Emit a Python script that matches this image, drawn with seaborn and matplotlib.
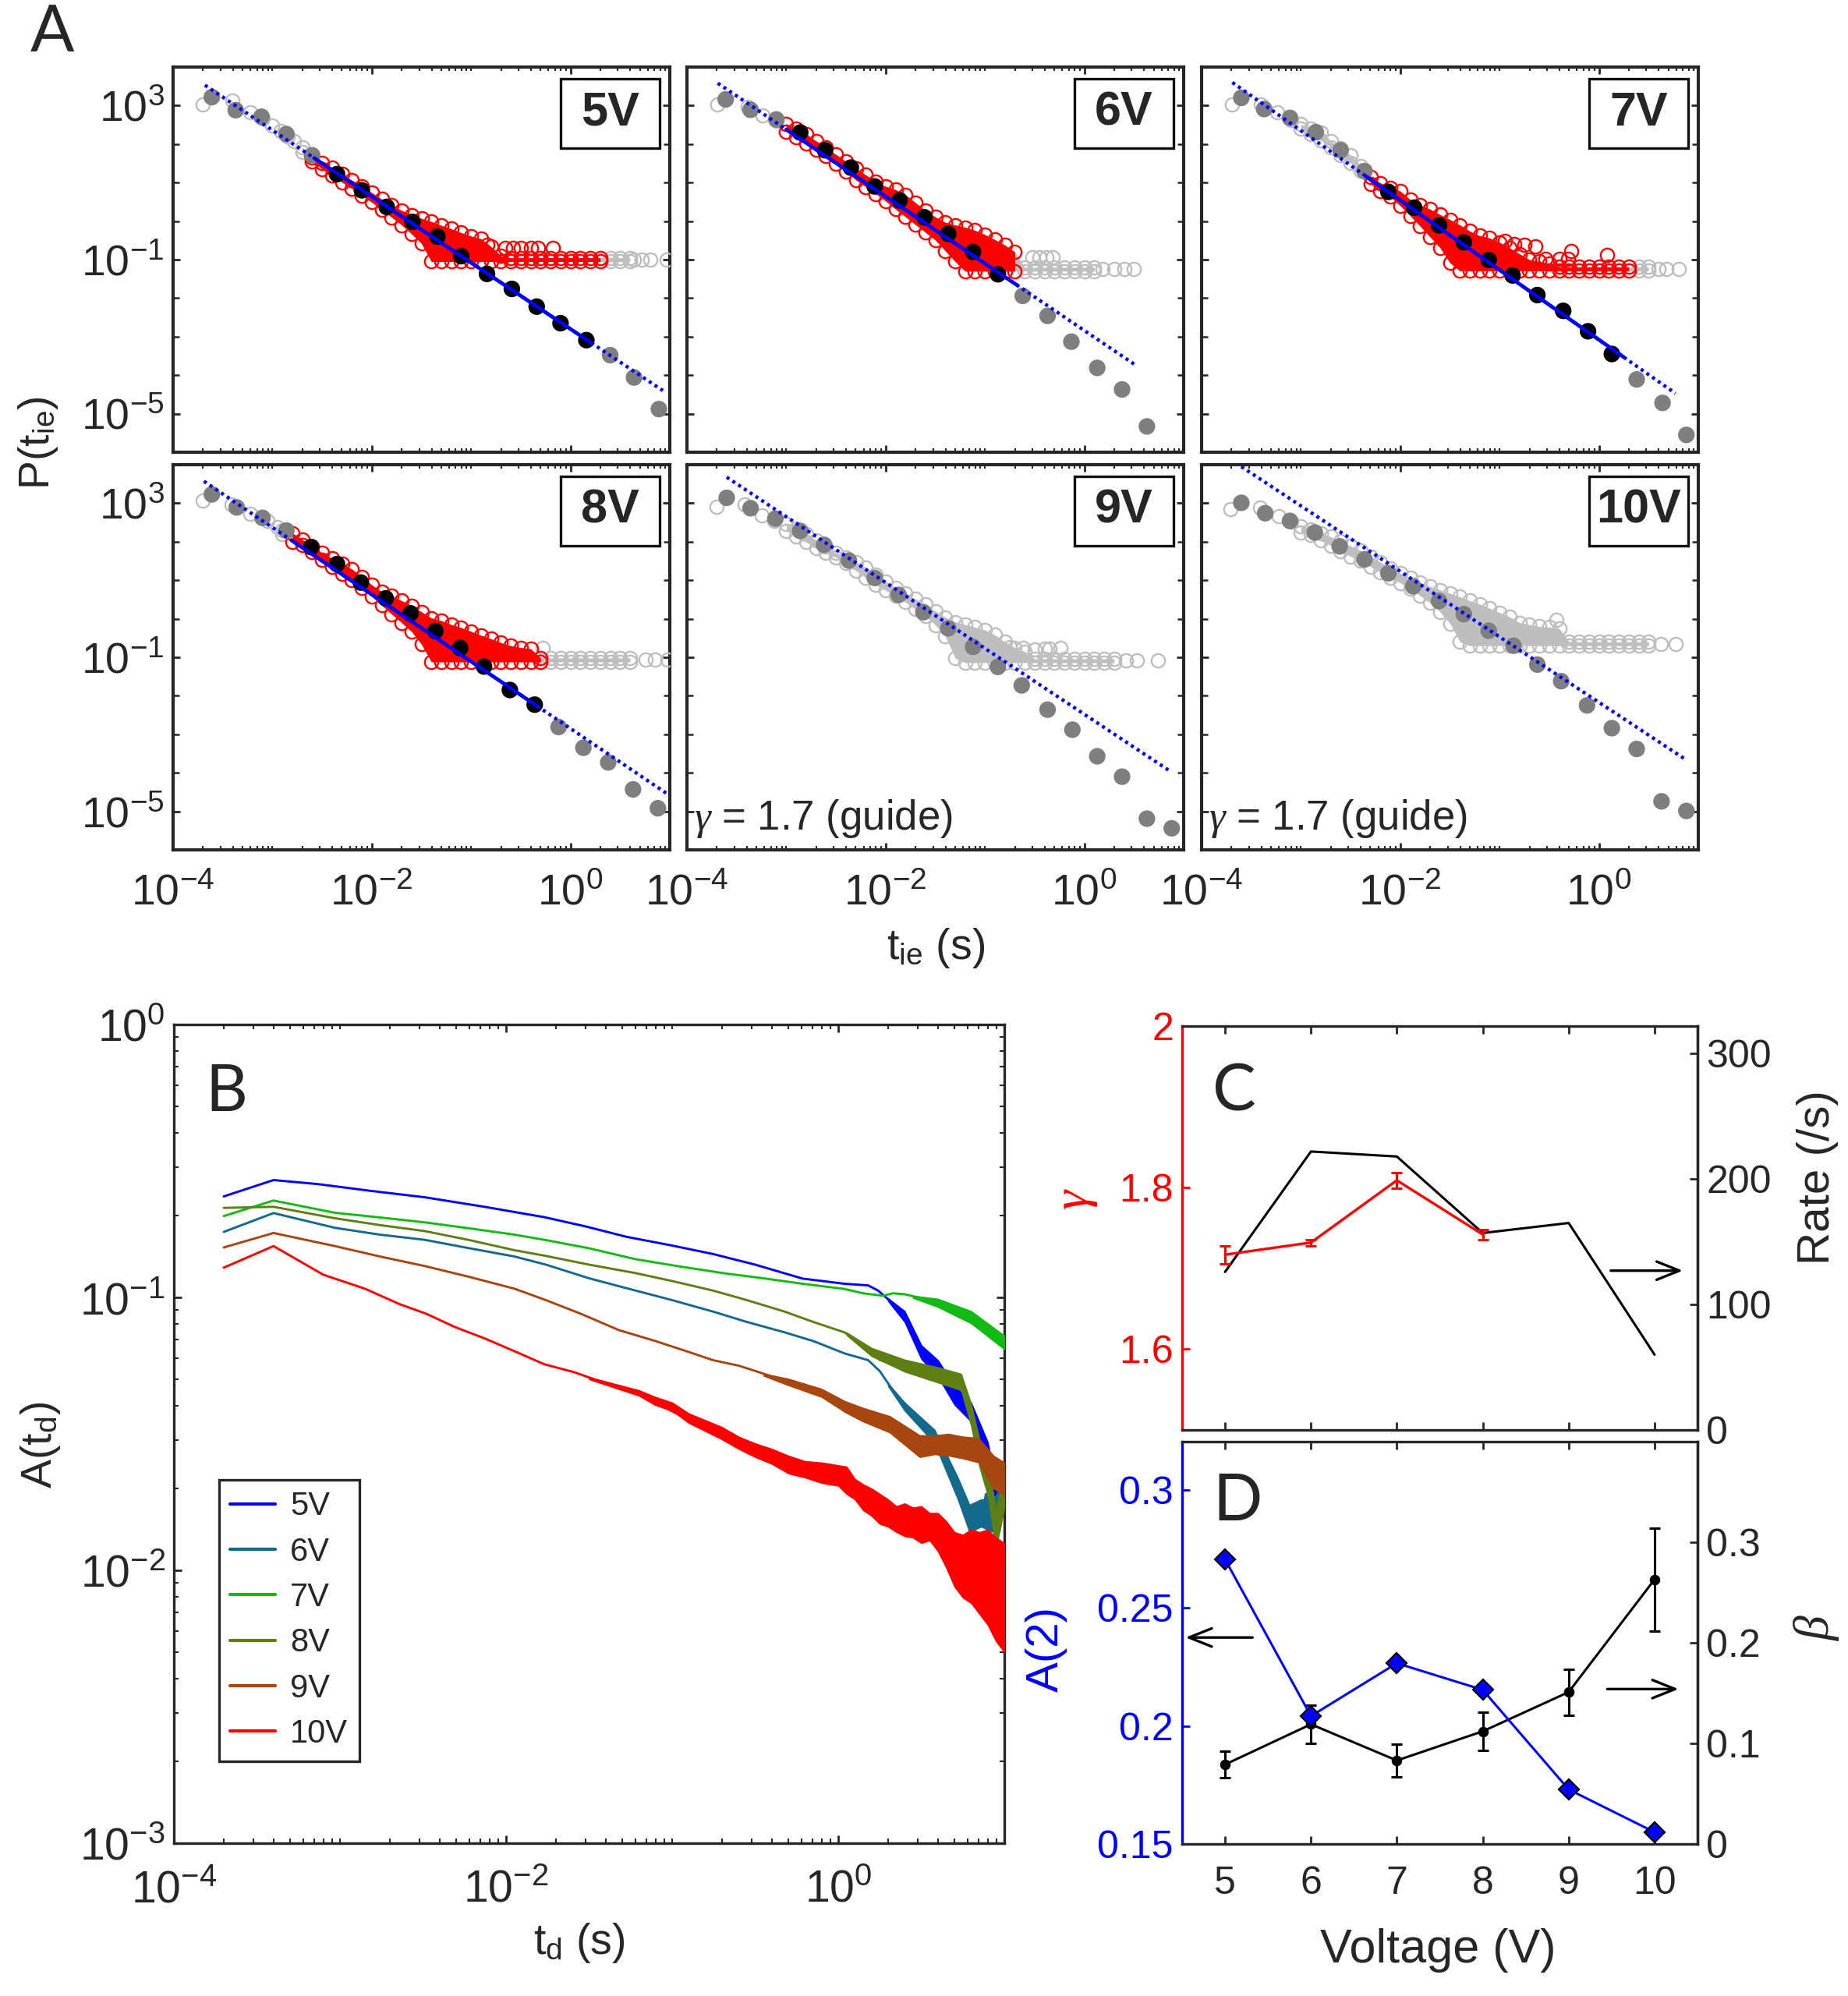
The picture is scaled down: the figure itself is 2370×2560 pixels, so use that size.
import numpy as np
import matplotlib
matplotlib.use("Agg")
import matplotlib.pyplot as plt
import seaborn as sns
from matplotlib import font_manager as fm
from matplotlib.ticker import FixedLocator, LogLocator, NullFormatter, FuncFormatter
from matplotlib.patches import Rectangle

# ======================= DATA =======================
# Panel A : values are log10(t_ie [s]) and log10(P(t_ie))
# ---- 5V
head_lx_5 = [-3.70, -3.40, -3.22, -3.10, -3.00, -2.92, -2.85, -2.78]
head_ly_5 = [3.03, 3.12, 2.82, 2.66, 2.48, 2.34, 2.20, 2.08]
band_lx_5 = [-2.7, -2.6, -2.5, -2.4, -2.3, -2.2, -2.1, -2.0, -1.9, -1.8, -1.7, -1.6, -1.5, -1.4, -1.3, -1.2, -1.1,
             -1.0, -0.9, -0.8, -0.7, -0.6, -0.5, -0.4, -0.3, -0.2, -0.1, 0.0, 0.1, 0.2, 0.3, 0.4, 0.5, 0.6]
band_hi_5 = [1.92, 1.66, 1.52, 1.38, 1.22, 1.06, 0.90, 0.74, 0.57, 0.41, 0.28, 0.16, 0.07, -0.01, -0.11, -0.20, -0.30,
             -0.39, -0.46, -0.66, -0.90, -0.95, -0.95, -0.95, -0.95, -0.95, -0.95, -0.95, -0.95, -0.95, -0.95, -0.95, -0.95, -0.95]
band_lo_5 = [1.80, 1.56, 1.35, 1.18, 1.01, 0.85, 0.67, 0.49, 0.30, 0.10, -0.10, -0.33, -0.58, -1.05, -1.05, -1.05, -1.05,
             -1.05, -1.05, -1.05, -1.05, -1.05, -1.05, -1.05, -1.05, -1.05, -1.05, -1.05, -1.05, -1.05, -1.05, -1.05, -1.05, -1.05]
sp_lx_5 = [-0.84, -0.66, -0.58, -0.50, -0.40, -0.33, -0.18, 0.64, 0.72, 0.80, 0.97]
sp_ly_5 = [-0.62, -0.70, -0.70, -0.70, -0.70, -0.69, -0.69, -1.00, -1.00, -1.00, -1.00]
red_5 = [-2.65, 0.33]
bin_lx_5 = [-3.61, -3.37, -3.11, -2.86, -2.60, -2.35, -2.10, -1.85, -1.59, -1.34, -1.10, -0.84, -0.59, -0.34, -0.10, 0.16, 0.40, 0.64, 0.89]
bin_ly_5 = [3.22, 2.88, 2.71, 2.26, 1.71, 1.22, 0.80, 0.37, -0.02, -0.40, -0.91, -1.37, -1.76, -2.22, -2.65, -3.09, -3.48, -4.06, -4.88]
bin_fit_5 = [0, 0, 0, 0, 0, 1, 1, 1, 1, 1, 1, 1, 1, 1, 1, 1, 0, 0, 0]
gamma_5, icpt_5, solid_5, guide_5 = 1.72, -2.80, [-2.58, 0.21], [-3.68, 0.93]

# ---- 6V
head_lx_6 = [-3.69, -3.39, -3.24, -3.10]
head_ly_6 = [3.03, 2.96, 2.75, 2.60]
band_lx_6 = [-3.0, -2.9, -2.8, -2.7, -2.6, -2.5, -2.4, -2.3, -2.2, -2.1, -2.0, -1.9, -1.8, -1.7, -1.6, -1.5,
             -1.4, -1.3, -1.2, -1.1, -1.0, -0.9, -0.8, -0.7, -0.6, -0.5, -0.4, -0.3, -0.2, -0.1, 0.0, 0.1]
band_hi_6 = [2.52, 2.40, 2.26, 2.08, 1.91, 1.73, 1.55, 1.37, 1.20, 1.03, 0.90, 0.82, 0.68, 0.48, 0.27, 0.11,
             -0.03, -0.10, -0.16, -0.24, -0.35, -0.48, -0.62, -0.80, -1.20, -1.20, -1.20, -1.20, -1.20, -1.20, -1.20, -1.20]
band_lo_6 = [2.32, 2.18, 2.02, 1.85, 1.69, 1.49, 1.28, 1.07, 0.89, 0.71, 0.52, 0.31, 0.11, -0.09, -0.29, -0.49,
             -0.77, -1.05, -1.30, -1.30, -1.30, -1.30, -1.30, -1.30, -1.30, -1.30, -1.30, -1.30, -1.30, -1.30, -1.30, -1.30]
sp_lx_6 = [-0.52, -0.45, -0.38, -0.32, 0.18, 0.30, 0.40, 0.50]
sp_ly_6 = [-0.93, -0.93, -0.93, -0.93, -1.25, -1.25, -1.25, -1.25]
red_6 = [-3.02, -0.62]
bin_lx_6 = [-3.61, -3.36, -3.10, -2.86, -2.61, -2.35, -2.11, -1.86, -1.61, -1.37, -1.12, -0.87, -0.62, -0.37, -0.13, 0.13, 0.38, 0.63]
bin_ly_6 = [3.16, 2.89, 2.64, 2.30, 1.84, 1.39, 0.90, 0.54, 0.10, -0.33, -0.80, -1.38, -1.94, -2.46, -3.13, -3.81, -4.37, -5.33]
bin_fit_6 = [0, 0, 0, 1, 1, 1, 1, 1, 1, 1, 1, 1, 0, 0, 0, 0, 0, 0]
gamma_6, icpt_6, solid_6, guide_6 = 1.74, -2.84, [-3.00, -0.67], [-3.69, 0.51]

# ---- 7V
head_lx_7 = [-3.69, -3.40, -3.24, -3.10]
head_ly_7 = [3.03, 3.03, 2.82, 2.62]
band_lx_7 = [-3.0, -2.9, -2.8, -2.7, -2.6, -2.5, -2.4, -2.3, -2.2, -2.1, -2.0, -1.9, -1.8, -1.7, -1.6, -1.5, -1.4, -1.3,
             -1.2, -1.1, -1.0, -0.9, -0.8, -0.7, -0.6, -0.5, -0.4, -0.3, -0.2, -0.1, 0.0, 0.1, 0.2, 0.3, 0.4, 0.5]
band_hi_7 = [2.52, 2.40, 2.30, 2.08, 1.90, 1.72, 1.42, 1.15, 0.99, 0.87, 0.78, 0.56, 0.42, 0.31, 0.17, 0.04, -0.10, -0.26,
             -0.38, -0.44, -0.55, -0.70, -0.85, -1.00, -1.05, -1.10, -1.19, -1.19, -1.19, -1.19, -1.19, -1.19, -1.19, -1.19, -1.19, -1.19]
band_lo_7 = [2.40, 2.26, 2.10, 1.92, 1.72, 1.52, 1.30, 0.97, 0.79, 0.63, 0.40, 0.14, -0.13, -0.41, -0.69, -1.08, -1.29, -1.29,
             -1.29, -1.29, -1.29, -1.29, -1.29, -1.29, -1.29, -1.29, -1.29, -1.29, -1.29, -1.29, -1.29, -1.29, -1.29, -1.29, -1.29, -1.29]
sp_lx_7 = [-0.95, -0.85, -0.75, -0.64, -0.54, -0.40, -0.31, -0.28, 0.08, 0.60, 0.68, 0.80]
sp_ly_7 = [-0.52, -0.60, -0.62, -0.66, -0.98, -0.98, -0.98, -0.77, -0.87, -1.24, -1.24, -1.24]
red_7 = [-2.36, 0.32]
bin_lx_7 = [-3.60, -3.37, -3.11, -2.85, -2.60, -2.36, -2.12, -1.86, -1.61, -1.36, -1.11, -0.87, -0.62, -0.36, -0.11, 0.13, 0.38, 0.64, 0.88]
bin_ly_7 = [3.20, 2.91, 2.68, 2.31, 1.84, 1.30, 0.76, 0.35, -0.11, -0.55, -1.01, -1.41, -1.92, -2.33, -2.86, -3.45, -4.11, -4.72, -5.55]
bin_fit_7 = [0, 0, 0, 0, 0, 0, 1, 1, 1, 1, 1, 1, 1, 1, 1, 1, 0, 0, 0]
gamma_7, icpt_7, solid_7, guide_7 = 1.81, -3.08, [-2.35, 0.25], [-3.69, 0.77]

# ---- 8V
head_lx_8 = [-3.70, -3.41, -3.22, -3.05, -2.95]
head_ly_8 = [3.06, 2.96, 2.72, 2.55, 2.38]
band_lx_8 = [-2.9, -2.8, -2.7, -2.6, -2.5, -2.4, -2.3, -2.2, -2.1, -2.0, -1.9, -1.8, -1.7, -1.6, -1.5, -1.4, -1.3, -1.2,
             -1.1, -1.0, -0.9, -0.8, -0.7, -0.6, -0.5, -0.4, -0.3, -0.2, -0.1, 0.0, 0.1, 0.2, 0.3, 0.4, 0.5, 0.6]
band_hi_8 = [2.30, 2.22, 2.06, 1.88, 1.71, 1.57, 1.43, 1.29, 1.09, 0.88, 0.70, 0.59, 0.47, 0.34, 0.18, 0.02, -0.05, -0.15,
             -0.23, -0.33, -0.43, -0.52, -0.62, -0.70, -0.75, -0.78, -1.02, -1.02, -1.02, -1.02, -1.02, -1.02, -1.02, -1.02, -1.02, -1.02]
band_lo_8 = [2.20, 2.00, 1.91, 1.73, 1.53, 1.35, 1.17, 1.00, 0.81, 0.58, 0.35, 0.12, -0.10, -0.33, -0.66, -1.12, -1.12, -1.12,
             -1.12, -1.12, -1.12, -1.12, -1.12, -1.12, -1.12, -1.12, -1.12, -1.12, -1.12, -1.12, -1.12, -1.12, -1.12, -1.12, -1.12, -1.12]
sp_lx_8 = [-0.28, 0.76, 0.85, 0.98]
sp_ly_8 = [-0.76, -1.07, -1.07, -1.07]
red_8 = [-2.82, -0.30]
bin_lx_8 = [-3.61, -3.36, -3.10, -2.86, -2.61, -2.35, -2.11, -1.86, -1.61, -1.36, -1.11, -0.87, -0.61, -0.36, -0.12, 0.13, 0.38, 0.63, 0.88]
bin_ly_8 = [3.23, 2.89, 2.62, 2.29, 1.86, 1.42, 0.94, 0.53, 0.14, -0.32, -0.76, -1.24, -1.85, -2.23, -2.81, -3.35, -3.73, -4.43, -4.92]
bin_fit_8 = [0, 0, 0, 0, 1, 1, 1, 1, 1, 1, 1, 1, 1, 1, 0, 0, 0, 0, 0]
gamma_8, icpt_8, solid_8, guide_8 = 1.74, -2.85, [-2.80, -0.33], [-3.69, 0.97]

# ---- 9V
head_lx_9 = [-3.70, -3.42, -3.25, -3.12]
head_ly_9 = [2.91, 2.96, 2.69, 2.55]
band_lx_9 = [-3.0, -2.9, -2.8, -2.7, -2.6, -2.5, -2.4, -2.3, -2.2, -2.1, -2.0, -1.9, -1.8, -1.7, -1.6, -1.5, -1.4,
             -1.3, -1.2, -1.1, -1.0, -0.9, -0.8, -0.7, -0.6, -0.5, -0.4, -0.3, -0.2, -0.1, 0.0, 0.1, 0.2, 0.3]
band_hi_9 = [2.46, 2.33, 2.19, 2.04, 1.88, 1.72, 1.59, 1.46, 1.33, 1.15, 0.97, 0.80, 0.66, 0.51, 0.37, 0.20, 0.04,
             -0.08, -0.15, -0.22, -0.29, -0.42, -0.60, -0.75, -0.85, -1.04, -1.04, -1.04, -1.04, -1.04, -1.04, -1.04, -1.04, -1.04]
band_lo_9 = [2.28, 2.14, 1.99, 1.84, 1.71, 1.59, 1.45, 1.25, 1.06, 0.88, 0.74, 0.59, 0.43, 0.25, 0.07, -0.16, -0.45,
             -1.02, -1.14, -1.14, -1.14, -1.14, -1.14, -1.14, -1.14, -1.14, -1.14, -1.14, -1.14, -1.14, -1.14, -1.14, -1.14, -1.14]
sp_lx_9 = [-0.75, -0.62, -0.50, -0.40, -0.35, -0.24, 0.42, 0.53, 0.74]
sp_ly_9 = [-0.73, -0.76, -0.80, -0.78, -0.78, -0.75, -1.09, -1.09, -1.09]
red_9 = None
bin_lx_9 = [-3.60, -3.36, -3.11, -2.86, -2.62, -2.37, -2.11, -1.87, -1.62, -1.37, -1.12, -0.87, -0.63, -0.37, -0.12, 0.13, 0.38, 0.63, 0.88]
bin_ly_9 = [3.14, 2.87, 2.60, 2.28, 1.92, 1.51, 1.06, 0.62, 0.17, -0.25, -0.73, -1.25, -1.73, -2.36, -2.88, -3.57, -4.10, -5.19, -5.44]
bin_fit_9 = [0] * 19
gamma_9, icpt_9, solid_9, guide_9 = 1.71, -2.48, None, [-3.60, 0.86]

# ---- 10V
head_lx_10 = [-3.71, -3.41, -3.22, -3.10]
head_ly_10 = [2.85, 2.89, 2.67, 2.52]
band_lx_10 = [-3.0, -2.9, -2.8, -2.7, -2.6, -2.5, -2.4, -2.3, -2.2, -2.1, -2.0, -1.9, -1.8, -1.7, -1.6, -1.5, -1.4, -1.3,
              -1.2, -1.1, -1.0, -0.9, -0.8, -0.7, -0.6, -0.5, -0.4, -0.3, -0.2, -0.1, 0.0, 0.1, 0.2, 0.3, 0.4, 0.5]
band_hi_10 = [2.41, 2.32, 2.22, 2.13, 2.01, 1.89, 1.77, 1.62, 1.47, 1.31, 1.18, 1.06, 0.94, 0.84, 0.75, 0.66, 0.57, 0.47,
              0.38, 0.27, 0.16, 0.05, -0.10, -0.15, -0.20, -0.22, -0.25, -0.60, -0.60, -0.60, -0.60, -0.60, -0.60, -0.60, -0.60, -0.60]
band_lo_10 = [2.24, 2.17, 2.03, 1.90, 1.76, 1.62, 1.50, 1.35, 1.21, 1.07, 0.93, 0.78, 0.60, 0.41, 0.18, -0.12, -0.60, -0.70,
              -0.70, -0.70, -0.70, -0.70, -0.70, -0.70, -0.70, -0.70, -0.70, -0.70, -0.70, -0.70, -0.70, -0.70, -0.70, -0.70, -0.70, -0.70]
sp_lx_10 = [-0.43, 0.62, 0.77]
sp_ly_10 = [-0.03, -0.65, -0.65]
red_10 = None
bin_lx_10 = [-3.60, -3.36, -3.11, -2.86, -2.61, -2.36, -2.12, -1.87, -1.61, -1.36, -1.11, -0.86, -0.62, -0.38, -0.12, 0.13, 0.38, 0.63, 0.88]
bin_ly_10 = [3.01, 2.74, 2.54, 2.24, 1.88, 1.54, 1.18, 0.84, 0.46, 0.12, -0.31, -0.70, -1.19, -1.62, -2.25, -2.84, -3.38, -4.74, -4.99]
bin_fit_10 = [0] * 19
gamma_10, icpt_10, solid_10, guide_10 = 1.70, -2.17, None, [-3.60, 0.87]

# Panel B : log10(t_d [s]) and log10(A(t_d)); env_* = read extent of the noisy band
B_lx_5 = [-3.70, -3.40, -3.13, -2.81, -2.49, -2.13, -1.77, -1.52, -1.275, -1.00, -0.754, -0.50, -0.215, 0.037, 0.18, 0.24, 0.288,
          0.34, 0.396, 0.43, 0.468, 0.51, 0.558, 0.60, 0.647, 0.67, 0.70, 0.75, 0.79, 0.82, 0.845, 0.88, 0.92, 0.953, 0.99]
B_ly_5 = [-0.63, -0.57, -0.585, -0.61, -0.633, -0.668, -0.706, -0.74, -0.778, -0.81, -0.841, -0.88, -0.931, -0.95, -0.956, -0.975, -1.00,
          -1.03, -1.065, -1.10, -1.154, -1.21, -1.243, -1.26, -1.269, -1.31, -1.358, -1.38, -1.409, -1.44, -1.473, -1.537, -1.60, -1.728, -1.79]
env_lx_5 = [0.30, 0.40, 0.50, 0.60, 0.70, 0.80, 0.90, 0.96]
env_hi_5 = [-1.003, -1.05, -1.175, -1.23, -1.323, -1.385, -1.53, -1.70]
env_lo_5 = [-1.013, -1.09, -1.225, -1.29, -1.393, -1.455, -1.61, -1.78]

B_lx_6 = [-3.70, -3.40, -3.03, -2.76, -2.49, -2.22, -1.95, -1.76, -1.50, -1.22, -1.00, -0.754, -0.55, -0.323, -0.15, 0.037, 0.18, 0.25,
          0.306, 0.35, 0.396, 0.45, 0.50, 0.54, 0.58, 0.612, 0.65, 0.684, 0.72, 0.755, 0.78, 0.81, 0.84, 0.863, 0.89, 0.917, 0.94,
          0.953, 0.97, 0.99, 1.0]
B_ly_6 = [-0.76, -0.691, -0.745, -0.77, -0.789, -0.82, -0.85, -0.88, -0.93, -0.975, -1.01, -1.052, -1.09, -1.128, -1.16, -1.205, -1.23, -1.27,
          -1.32, -1.36, -1.396, -1.42, -1.46, -1.473, -1.51, -1.537, -1.60, -1.638, -1.70, -1.741, -1.80, -1.83, -1.76, -1.80, -1.72, -1.78, -1.84,
          -1.87, -1.75, -1.80, -1.72]
env_lx_6 = [0.30, 0.40, 0.58, 0.72, 0.79, 0.86, 0.935, 1.0]
env_hi_6 = [-1.315, -1.385, -1.485, -1.66, -1.76, -1.74, -1.74, -1.67]
env_lo_6 = [-1.325, -1.415, -1.535, -1.74, -1.86, -1.84, -1.86, -1.77]

B_lx_7 = [-3.70, -3.40, -3.03, -2.76, -2.49, -2.22, -1.95, -1.76, -1.50, -1.22, -0.95, -0.682, -0.45, -0.215, 0.037, 0.15, 0.27,
          0.33, 0.396, 0.48, 0.576, 0.66, 0.755, 0.81, 0.863, 0.90, 0.935, 0.97, 0.998]
B_ly_7 = [-0.702, -0.645, -0.69, -0.707, -0.725, -0.747, -0.77, -0.79, -0.82, -0.86, -0.887, -0.912, -0.93, -0.95, -0.969, -0.985, -0.994,
          -0.985, -0.988, -1.00, -1.014, -1.04, -1.065, -1.075, -1.084, -1.11, -1.141, -1.15, -1.167]
env_lx_7 = [0.45, 0.60, 0.80, 1.0]
env_hi_7 = [-0.994, -1.005, -1.05, -1.14]
env_lo_7 = [-1.002, -1.035, -1.095, -1.19]

B_lx_8 = [-3.70, -3.40, -3.03, -2.76, -2.49, -2.22, -1.95, -1.76, -1.50, -1.22, -1.00, -0.754, -0.55, -0.323, -0.15, 0.037, 0.12, 0.18,
          0.252, 0.32, 0.396, 0.48, 0.576, 0.66, 0.737, 0.77, 0.79, 0.82, 0.845, 0.87, 0.899, 0.92, 0.94, 0.953, 0.97, 0.99, 1.0]
B_ly_8 = [-0.672, -0.668, -0.71, -0.735, -0.757, -0.79, -0.827, -0.848, -0.88, -0.911, -0.94, -0.975, -1.01, -1.052, -1.09, -1.128, -1.16, -1.192,
          -1.23, -1.24, -1.25, -1.265, -1.281, -1.29, -1.307, -1.36, -1.409, -1.48, -1.562, -1.62, -1.664, -1.75, -1.82, -1.855, -1.86, -1.79, -1.70]
env_lx_8 = [0.05, 0.20, 0.40, 0.60, 0.74, 0.80, 0.85, 0.90, 0.95, 1.0]
env_hi_8 = [-1.128, -1.185, -1.228, -1.256, -1.28, -1.39, -1.52, -1.605, -1.78, -1.63]
env_lo_8 = [-1.138, -1.215, -1.272, -1.312, -1.34, -1.47, -1.62, -1.725, -1.92, -1.77]

B_lx_9 = [-3.70, -3.40, -3.03, -2.76, -2.49, -2.22, -1.95, -1.76, -1.55, -1.32, -1.10, -0.90, -0.754, -0.60, -0.502, -0.35, -0.143,
          0.0, 0.126, 0.31, 0.49, 0.665, 0.845, 0.935, 1.0]
B_ly_9 = [-0.817, -0.764, -0.812, -0.85, -0.885, -0.925, -0.968, -1.01, -1.06, -1.12, -1.16, -1.20, -1.23, -1.25, -1.269, -1.30, -1.339,
          -1.39, -1.422, -1.465, -1.545, -1.54, -1.56, -1.64, -1.665]
env_lx_9 = [-0.45, -0.30, -0.10, 0.04, 0.15, 0.31, 0.40, 0.49, 0.58, 0.665, 0.75, 0.845, 0.935, 1.0]
env_hi_9 = [-1.279, -1.298, -1.335, -1.38, -1.405, -1.435, -1.47, -1.505, -1.505, -1.50, -1.51, -1.515, -1.58, -1.605]
env_lo_9 = [-1.287, -1.322, -1.365, -1.42, -1.455, -1.495, -1.54, -1.585, -1.575, -1.58, -1.59, -1.605, -1.70, -1.725]

B_lx_10 = [-3.70, -3.40, -3.10, -2.85, -2.64, -2.48, -2.31, -2.13, -1.95, -1.77, -1.59, -1.40, -1.20, -1.04, -0.86, -0.68, -0.50,
           -0.32, -0.14, 0.04, 0.22, 0.40, 0.58, 0.72, 0.85, 0.95, 1.0]
B_ly_10 = [-0.891, -0.812, -0.917, -0.968, -1.025, -1.06, -1.108, -1.15, -1.197, -1.245, -1.274, -1.315, -1.35, -1.405, -1.46, -1.515, -1.56,
           -1.61, -1.64, -1.655, -1.755, -1.815, -1.835, -1.98, -2.0, -2.05, -2.08]
env_lx_10 = [-1.5, -1.2, -1.1, -1.0, -0.9, -0.8, -0.7, -0.6, -0.5, -0.4, -0.3, -0.2, -0.1, 0.0, 0.05, 0.1, 0.15, 0.2, 0.25, 0.3,
             0.35, 0.4, 0.45, 0.5, 0.55, 0.6, 0.65, 0.7, 0.75, 0.8, 0.85, 0.9, 0.95, 1.0]
env_hi_10 = [-1.292, -1.34, -1.365, -1.385, -1.425, -1.45, -1.475, -1.51, -1.535, -1.555, -1.58, -1.60, -1.605, -1.615, -1.62, -1.665,
             -1.685, -1.70, -1.72, -1.74, -1.765, -1.755, -1.77, -1.765, -1.79, -1.79, -1.82, -1.86, -1.87, -1.85, -1.86, -1.85,
             -1.88, -1.90]
env_lo_10 = [-1.300, -1.36, -1.395, -1.415, -1.46, -1.49, -1.52, -1.555, -1.585, -1.61, -1.645, -1.66, -1.68, -1.69, -1.72, -1.74,
             -1.78, -1.80, -1.83, -1.84, -1.86, -1.875, -1.88, -1.90, -1.89, -1.93, -1.99, -2.06, -2.10, -2.12, -2.16, -2.20,
             -2.26, -2.30]

B_names = ["5V", "6V", "7V", "8V", "9V", "10V"]
B_colors = ["#0000FF", "#136A8C", "#14BA14", "#5E7F14", "#A8460F", "#FF0000"]

# Panels C and D
volts = [5, 6, 7, 8, 9, 10]
gamma_vals = [1.717, 1.732, 1.809, 1.742]
gamma_err = [0.011, 0.004, 0.010, 0.006]
rate_vals = [126, 222, 218, 157, 165, 60]
A2_vals = [0.2706, 0.2042, 0.2266, 0.2153, 0.1731, 0.155]
beta_vals = [0.079, 0.119, 0.083, 0.112, 0.151, 0.263]
beta_err = [0.013, 0.019, 0.016, 0.019, 0.023, 0.051]

# ======================= STYLE =======================
sns.set_style("ticks")
names = {f.name for f in fm.fontManager.ttflist}
NARROW = "Liberation Sans Narrow" if "Liberation Sans Narrow" in names else "Liberation Sans"
SANS = "Liberation Sans"
LETTER = "Lato" if "Lato" in names else "Open Sans"
plt.rcParams["font.family"] = [SANS, "DejaVu Sans"]
plt.rcParams["mathtext.fontset"] = "custom"
plt.rcParams["mathtext.it"] = "Liberation Serif:italic"
plt.rcParams["mathtext.rm"] = "Liberation Sans"
plt.rcParams["mathtext.sf"] = "Liberation Sans"

RED, LGRAY, DGRAY, BLUE, SPINE = "#FF0000", "#BEBEBE", "#7F7F7F", "#0000FF", "#262626"

W, H = 2370.0, 2560.0
fig = plt.figure(figsize=(W / 100, H / 100), dpi=100)


def pow10(v, pos):
    return r"$\mathregular{10^{%d}}$" % int(round(np.log10(v)))


panelsA = [
    dict(name="5V", head=(head_lx_5, head_ly_5), band=(band_lx_5, band_lo_5, band_hi_5), sp=(sp_lx_5, sp_ly_5), red=red_5,
         bins=(bin_lx_5, bin_ly_5, bin_fit_5), fit=(gamma_5, icpt_5, solid_5, guide_5)),
    dict(name="6V", head=(head_lx_6, head_ly_6), band=(band_lx_6, band_lo_6, band_hi_6), sp=(sp_lx_6, sp_ly_6), red=red_6,
         bins=(bin_lx_6, bin_ly_6, bin_fit_6), fit=(gamma_6, icpt_6, solid_6, guide_6)),
    dict(name="7V", head=(head_lx_7, head_ly_7), band=(band_lx_7, band_lo_7, band_hi_7), sp=(sp_lx_7, sp_ly_7), red=red_7,
         bins=(bin_lx_7, bin_ly_7, bin_fit_7), fit=(gamma_7, icpt_7, solid_7, guide_7)),
    dict(name="8V", head=(head_lx_8, head_ly_8), band=(band_lx_8, band_lo_8, band_hi_8), sp=(sp_lx_8, sp_ly_8), red=red_8,
         bins=(bin_lx_8, bin_ly_8, bin_fit_8), fit=(gamma_8, icpt_8, solid_8, guide_8)),
    dict(name="9V", head=(head_lx_9, head_ly_9), band=(band_lx_9, band_lo_9, band_hi_9), sp=(sp_lx_9, sp_ly_9), red=red_9,
         bins=(bin_lx_9, bin_ly_9, bin_fit_9), fit=(gamma_9, icpt_9, solid_9, guide_9)),
    dict(name="10V", head=(head_lx_10, head_ly_10), band=(band_lx_10, band_lo_10, band_hi_10), sp=(sp_lx_10, sp_ly_10), red=red_10,
         bins=(bin_lx_10, bin_ly_10, bin_fit_10), fit=(gamma_10, icpt_10, solid_10, guide_10)),
]

col_left = [222, 881, 1541]
row_top = [86, 596]
pw, ph = 637, 494


def is_red(vals, red):
    vals = np.asarray(vals, float)
    if red is None:
        return np.zeros(len(vals), bool)
    return (vals >= red[0]) & (vals <= red[1])


for k, d in enumerate(panelsA):
    r, c = divmod(k, 3)
    ax = fig.add_axes([col_left[c] / W, 1 - (row_top[r] + ph) / H, pw / W, ph / H])
    ax.set_xscale("log")
    ax.set_yscale("log")
    blx, blo, bhi = (np.asarray(a, float) for a in d["band"])
    m = is_red(blx, d["red"])
    ax.fill_between(10 ** blx, 10 ** blo, 10 ** bhi, color=LGRAY, lw=0, zorder=1)
    if m.any():
        idx = np.where(m)[0]
        s = slice(idx[0], idx[-1] + 1)
        ax.fill_between(10 ** blx[s], 10 ** blo[s], 10 ** bhi[s], color=RED, lw=0, zorder=2)
    ox = np.concatenate([blx, blx, np.asarray(d["head"][0]), np.asarray(d["sp"][0])])
    oy = np.concatenate([blo, bhi, np.asarray(d["head"][1]), np.asarray(d["sp"][1])])
    om = is_red(ox, d["red"])
    ax.plot(10 ** ox[~om], 10 ** oy[~om], "o", ms=12.5, mfc="none", mec=LGRAY, mew=1.7, ls="none", zorder=3)
    ax.plot(10 ** ox[om], 10 ** oy[om], "o", ms=12.5, mfc="none", mec=RED, mew=1.7, ls="none", zorder=4)
    bx, by, bf = (np.asarray(a, float) for a in d["bins"])
    g = bf < 0.5
    sns.scatterplot(x=10 ** bx[g], y=10 ** by[g], color=DGRAY, s=235, edgecolor="none", linewidth=0, ax=ax, legend=False, zorder=5)
    if (~g).any():
        sns.scatterplot(x=10 ** bx[~g], y=10 ** by[~g], color="black", s=235, edgecolor="none", linewidth=0, ax=ax, legend=False, zorder=6)
    gam, icpt, solid, guide = d["fit"]
    gx = np.asarray(guide, float)
    sns.lineplot(x=10 ** gx, y=10 ** (icpt - gam * gx), color=BLUE, lw=3.2, linestyle=(0, (0.9, 1.1)), ax=ax,
                 estimator=None, sort=False, legend=False, zorder=7)
    if solid is not None:
        sx = np.asarray(solid, float)
        sns.lineplot(x=10 ** sx, y=10 ** (icpt - gam * sx), color=BLUE, lw=3.4, ax=ax, estimator=None, sort=False,
                     legend=False, zorder=8)
    ax.set_xlim(1e-4, 10)
    ax.set_ylim(1e-6, 1e4)
    ax.xaxis.set_major_locator(FixedLocator([1e-4, 1e-2, 1e0]))
    ax.xaxis.set_minor_locator(LogLocator(base=10, subs=np.arange(1, 10), numticks=60))
    ax.yaxis.set_major_locator(FixedLocator([1e3, 1e-1, 1e-5]))
    ax.yaxis.set_minor_locator(FixedLocator([10.0 ** e for e in range(-6, 5)]))
    ax.xaxis.set_major_formatter(FuncFormatter(pow10))
    ax.yaxis.set_major_formatter(FuncFormatter(pow10))
    ax.xaxis.set_minor_formatter(NullFormatter())
    ax.yaxis.set_minor_formatter(NullFormatter())
    ax.tick_params(which="both", direction="in", top=True, right=True, color=SPINE)
    ax.tick_params(which="major", length=6.5, width=2.0, labelsize=40, labelfontfamily=NARROW, pad=8)
    ax.xaxis.set_tick_params(which="major", pad=22)
    ax.tick_params(which="minor", length=3.5, width=1.5)
    ax.yaxis.set_tick_params(which="minor", length=6.0, width=1.8)
    ax.tick_params(labelleft=(c == 0), labelbottom=(r == 1))
    for sp in ax.spines.values():
        sp.set_linewidth(3.0)
        sp.set_color(SPINE)
    ax.set_xlabel("")
    ax.set_ylabel("")
    ax.add_patch(Rectangle((0.78, 0.79), 0.20, 0.18, transform=ax.transAxes, fc="white", ec="#111111", lw=2.4, zorder=9))
    ax.text(0.88, 0.88, d["name"], transform=ax.transAxes, ha="center", va="center", fontsize=44,
            fontweight="bold", family=SANS, zorder=10)
    if d["red"] is None:
        ax.text(0.014, 0.081, r"$\gamma$ = 1.7 (guide)", transform=ax.transAxes, ha="left", va="center",
                fontsize=38, family=SANS, zorder=10)

fig.text(67 / W, 1 - 43 / H, "A", fontsize=60, family=LETTER, ha="center", va="center")
fig.text(49 / W, 1 - 568 / H, r"P(t$_{\mathregular{ie}}$)", fontsize=40, rotation=90, ha="center", va="center")
fig.text(1200 / W, 1 - 1216 / H, r"t$_{\mathregular{ie}}$ (s)", fontsize=40, ha="center", va="center")

# ======================= PANEL B =======================
axB = fig.add_axes([223 / W, 1 - 2364 / H, 1065 / W, 1050 / H])
axB.set_xscale("log")
axB.set_yscale("log")
B_lx = [B_lx_5, B_lx_6, B_lx_7, B_lx_8, B_lx_9, B_lx_10]
B_ly = [B_ly_5, B_ly_6, B_ly_7, B_ly_8, B_ly_9, B_ly_10]
B_env = [(env_lx_5, env_lo_5, env_hi_5), (env_lx_6, env_lo_6, env_hi_6), (env_lx_7, env_lo_7, env_hi_7),
         (env_lx_8, env_lo_8, env_hi_8), (env_lx_9, env_lo_9, env_hi_9), (env_lx_10, env_lo_10, env_hi_10)]
for i, (lx, ly, env, nm, col) in enumerate(zip(B_lx, B_ly, B_env, B_names, B_colors)):
    lx = np.asarray(lx, float)
    ly = np.asarray(ly, float)
    ex, elo, ehi = (np.asarray(a, float) for a in env)
    axB.fill_between(10 ** ex, 10 ** elo, 10 ** ehi, color=col, lw=1.0, edgecolor=col, zorder=2 + i)
    sns.lineplot(x=10 ** lx, y=10 ** ly, color=col, lw=2.1, ax=axB, estimator=None, sort=False, label=nm, zorder=2 + i)
axB.set_xlim(1e-4, 10)
axB.set_ylim(1e-3, 1)
axB.xaxis.set_major_locator(FixedLocator([1e-4, 1e-2, 1e0]))
axB.xaxis.set_minor_locator(LogLocator(base=10, subs=np.arange(1, 10), numticks=60))
axB.yaxis.set_major_locator(FixedLocator([1e-3, 1e-2, 1e-1, 1e0]))
axB.yaxis.set_minor_locator(LogLocator(base=10, subs=np.arange(2, 10), numticks=60))
axB.xaxis.set_major_formatter(FuncFormatter(pow10))
axB.yaxis.set_major_formatter(FuncFormatter(pow10))
axB.xaxis.set_minor_formatter(NullFormatter())
axB.yaxis.set_minor_formatter(NullFormatter())
axB.tick_params(which="both", direction="in", top=True, right=True, color=SPINE)
axB.tick_params(which="major", length=7, width=2.0, labelsize=41, labelfontfamily=NARROW, pad=8)
axB.xaxis.set_tick_params(which="major", pad=24)
axB.tick_params(which="minor", length=4, width=1.5)
for sp in axB.spines.values():
    sp.set_linewidth(2.4)
    sp.set_color(SPINE)
axB.set_xlabel("")
axB.set_ylabel("")
leg = axB.legend(loc="upper left", bbox_to_anchor=(0.054, 0.444), frameon=True, fancybox=False, edgecolor=SPINE,
                 framealpha=1, fontsize=30, handlelength=1.4, handletextpad=0.45, labelspacing=0.44,
                 borderpad=0.35, borderaxespad=0)
leg.get_frame().set_linewidth(2.4)
for ln in leg.get_lines():
    ln.set_linewidth(3)
axB.text(0.063, 0.916, "B", transform=axB.transAxes, fontsize=60, family=LETTER, ha="center", va="center")
fig.text(52 / W, 1 - 1853 / H, r"A(t$_{\mathregular{d}}$)", fontsize=40, rotation=90, ha="center", va="center")
fig.text(743 / W, 1 - 2492 / H, r"t$_{\mathregular{d}}$ (s)", fontsize=40, ha="center", va="center")

# ======================= PANEL C =======================
axC = fig.add_axes([1516 / W, 1 - 1834 / H, 661 / W, 518 / H])
axCr = axC.twinx()
axC.set_zorder(axCr.get_zorder() + 1)
axC.patch.set_visible(False)
sns.lineplot(x=volts, y=rate_vals, color="black", lw=2.2, ax=axCr, estimator=None, sort=False, legend=False)
sns.lineplot(x=volts[:4], y=gamma_vals, color=RED, lw=2.4, ax=axC, estimator=None, sort=False, legend=False)
axC.errorbar(volts[:4], gamma_vals, yerr=gamma_err, fmt="none", ecolor=RED, elinewidth=2.2, capsize=5, capthick=2.2)
axC.set_xlim(4.5, 10.5)
axC.set_ylim(1.5, 2.0)
axCr.set_ylim(0, 322)
axC.set_xticks(volts)
axC.set_yticks([1.6, 1.8, 2.0])
axC.yaxis.set_major_formatter(FuncFormatter(lambda v, p: "%g" % v))
axCr.set_yticks([0, 100, 200, 300])
axC.tick_params(axis="x", direction="in", top=True, bottom=True, labelbottom=False, length=7, width=2, color=SPINE)
axC.tick_params(axis="y", direction="in", left=True, right=False, length=7, width=2, colors=RED,
                labelsize=36, labelfontfamily=NARROW, pad=8)
axCr.tick_params(axis="y", direction="in", right=True, left=False, length=7, width=2, color=SPINE,
                 labelsize=36, labelfontfamily=NARROW, pad=8)
for sp in axC.spines.values():
    sp.set_linewidth(2.4)
    sp.set_color(SPINE)
axC.spines["left"].set_color(RED)
for nm in ["left", "top", "bottom"]:
    axCr.spines[nm].set_visible(False)
axCr.spines["right"].set_linewidth(2.4)
axCr.spines["right"].set_color(SPINE)
axC.set_xlabel("")
axC.set_ylabel("")
axCr.set_ylabel("")
axC.text(0.101, 0.834, "C", transform=axC.transAxes, fontsize=60, family=LETTER, ha="center", va="center")
axCr.annotate("", xy=(10.33, 127), xytext=(9.49, 127),
              arrowprops=dict(arrowstyle="->,head_length=0.7,head_width=0.28", color="black", lw=2.4, mutation_scale=30,
                              shrinkA=0, shrinkB=0))
fig.text(1378 / W, 1 - 1537 / H, "γ", color=RED, fontsize=46, family="Liberation Serif", style="italic",
         rotation=90, ha="center", va="center")
fig.text(2331 / W, 1 - 1510 / H, "Rate (/s)", fontsize=42, rotation=90, ha="center", va="center")

# ======================= PANEL D =======================
axD = fig.add_axes([1516 / W, 1 - 2365 / H, 661 / W, 516 / H])
axDr = axD.twinx()
axD.set_zorder(axDr.get_zorder() + 1)
axD.patch.set_visible(False)
sns.lineplot(x=volts, y=beta_vals, color="black", lw=2.2, marker="o", markersize=9, markeredgecolor="black",
             markerfacecolor="black", ax=axDr, estimator=None, sort=False, legend=False)
axDr.errorbar(volts, beta_vals, yerr=beta_err, fmt="none", ecolor="black", elinewidth=2.2, capsize=5, capthick=2.2)
sns.lineplot(x=volts, y=A2_vals, color=BLUE, lw=2.2, marker="D", markersize=13, markerfacecolor=BLUE,
             markeredgecolor="black", markeredgewidth=1.6, ax=axD, estimator=None, sort=False, legend=False)
axD.set_xlim(4.5, 10.5)
axD.set_ylim(0.15, 0.3205)
axDr.set_ylim(0, 0.4)
axD.set_xticks(volts)
axD.set_yticks([0.15, 0.2, 0.25, 0.3])
axD.yaxis.set_major_formatter(FuncFormatter(lambda v, p: "%g" % v))
axDr.set_yticks([0, 0.1, 0.2, 0.3])
axDr.yaxis.set_major_formatter(FuncFormatter(lambda v, p: "%g" % v))
axD.tick_params(axis="x", direction="in", top=True, bottom=True, length=7, width=2, color=SPINE,
                labelsize=36, labelfontfamily=NARROW, pad=20)
axD.tick_params(axis="y", direction="in", left=True, right=False, length=7, width=2, colors=BLUE,
                labelsize=36, labelfontfamily=NARROW, pad=8)
axDr.tick_params(axis="y", direction="in", right=True, left=False, length=7, width=2, color=SPINE,
                 labelsize=36, labelfontfamily=NARROW, pad=8)
for sp in axD.spines.values():
    sp.set_linewidth(2.4)
    sp.set_color(SPINE)
axD.spines["left"].set_color(BLUE)
for nm in ["left", "top", "bottom"]:
    axDr.spines[nm].set_visible(False)
axDr.spines["right"].set_linewidth(2.4)
axDr.spines["right"].set_color(SPINE)
axD.set_xlabel("")
axD.set_ylabel("")
axDr.set_ylabel("")
axD.text(0.107, 0.849, "D", transform=axD.transAxes, fontsize=60, family=LETTER, ha="center", va="center")
axD.annotate("", xy=(4.54, 0.2375), xytext=(5.32, 0.2375),
             arrowprops=dict(arrowstyle="->,head_length=0.7,head_width=0.28", color="black", lw=2.4, mutation_scale=30,
                             shrinkA=0, shrinkB=0))
axDr.annotate("", xy=(10.28, 0.154), xytext=(9.45, 0.154),
              arrowprops=dict(arrowstyle="->,head_length=0.7,head_width=0.28", color="black", lw=2.4, mutation_scale=30,
                              shrinkA=0, shrinkB=0))
fig.text(1342 / W, 1 - 2115 / H, "A(2)", color=BLUE, fontsize=42, rotation=90, ha="center", va="center")
fig.text(2331 / W, 1 - 2089 / H, "β", fontsize=46, family="Liberation Serif", style="italic", rotation=90,
         ha="center", va="center")
fig.text(1844 / W, 1 - 2502 / H, "Voltage (V)", fontsize=44, ha="center", va="center")

fig.savefig("out.png", dpi=100)
